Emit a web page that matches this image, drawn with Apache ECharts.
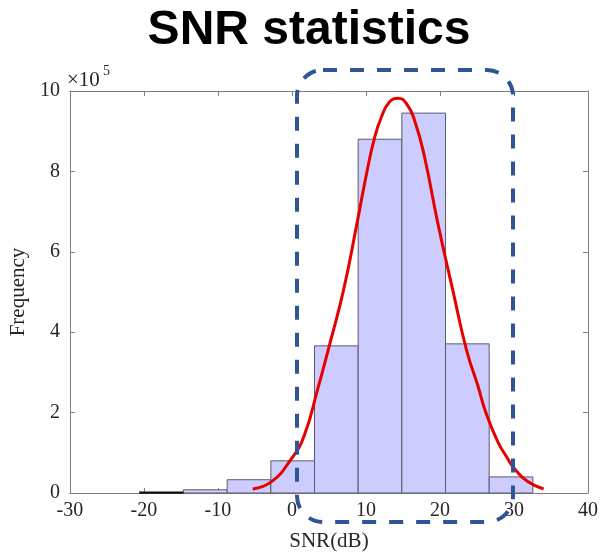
<!DOCTYPE html>
<html><head><meta charset="utf-8">
<script src="https://cdn.jsdelivr.net/npm/echarts@6/dist/echarts.min.js"></script>
<style>html,body{margin:0;padding:0;background:#fff}#c{width:603px;height:557px}</style>
</head><body><div id="c"></div>
<script>
// Histogram bin edges (dB) and counts (×10^5)
const binEdges = [-20.55, -14.65, -8.75, -2.85, 3.05, 8.95, 14.85, 20.75, 26.65, 32.55];
const binCounts = [0.02, 0.08, 0.33, 0.80, 3.66, 8.80, 9.45, 3.71, 0.40];
// Fitted curve points (×10^5)
const fitX = [-5.3, -2.7, -0.2, 1.6, 3.5, 5.0, 7.0, 8.8, 10.1, 11.1, 12.1, 13.2, 14.35, 15.5, 16.6, 17.9, 19.7, 21.7, 23.6, 25.1, 26.2, 27.8, 29.1, 30.0, 31.8, 34.0];
const fitY = [0.10, 0.29, 0.82, 1.40, 2.60, 3.63, 5.07, 6.72, 7.96, 8.79, 9.36, 9.73, 9.82, 9.68, 9.25, 8.37, 6.72, 5.07, 3.55, 2.68, 2.00, 1.28, 0.87, 0.62, 0.29, 0.10];
const xTicks = [-30, -20, -10, 0, 10, 20, 30, 40];
const yTicks = [0, 2, 4, 6, 8, 10];
const titleText = 'SNR statistics';
const xName = 'SNR(dB)';
const yName = 'Frequency';

const chart = echarts.init(document.getElementById('c'), null, {renderer: 'canvas'});
const serif = '"Liberation Serif", "Times New Roman", serif';
const axisCommon = {
  type: 'value',
  axisLine: {show: true, onZero: false, lineStyle: {color: '#7f7f7f', width: 1}},
  axisTick: {show: true, inside: true, length: 5, lineStyle: {color: '#7f7f7f'}},
  splitLine: {show: false}
};
const bins = binCounts.map((v, i) => [binEdges[i], binEdges[i + 1], v]);
chart.setOption({
  animation: false,
  backgroundColor: '#fff',
  grid: {left: 66, right: 15, top: 91, bottom: 62, containLabel: false},
  xAxis: [
    Object.assign({}, axisCommon, {
      min: xTicks[0], max: xTicks[xTicks.length - 1], interval: 10, position: 'bottom',
      axisLabel: {color: '#262626', fontFamily: serif, fontSize: 20, margin: 8},
      name: xName, nameLocation: 'middle', nameGap: 38,
      nameTextStyle: {color: '#262626', fontFamily: serif, fontSize: 21}
    }),
    Object.assign({}, axisCommon, {
      min: xTicks[0], max: xTicks[xTicks.length - 1], interval: 10, position: 'top',
      axisLabel: {show: false}
    })
  ],
  yAxis: [
    Object.assign({}, axisCommon, {
      min: yTicks[0], max: yTicks[yTicks.length - 1], interval: 2, position: 'left',
      axisLabel: {color: '#262626', fontFamily: serif, fontSize: 20, margin: 10},
      name: yName, nameLocation: 'middle', nameGap: 33, nameRotate: 90,
      nameTextStyle: {color: '#262626', fontFamily: serif, fontSize: 21}
    }),
    Object.assign({}, axisCommon, {
      min: yTicks[0], max: yTicks[yTicks.length - 1], interval: 2, position: 'right',
      axisLabel: {show: false}
    })
  ],
  series: [
    {
      type: 'custom',
      xAxisIndex: 0, yAxisIndex: 0,
      data: bins,
      encode: {x: [0, 1], y: 2},
      renderItem: function (params, api) {
        const p0 = api.coord([api.value(0), api.value(2)]);
        const p1 = api.coord([api.value(1), 0]);
        const tiny = (p1[1] - p0[1]) < 2;
        return {
          type: 'rect',
          shape: {x: p0[0], y: p0[1], width: p1[0] - p0[0], height: p1[1] - p0[1]},
          style: {fill: '#ccccff', stroke: tiny ? '#111' : '#5a5a6a', lineWidth: tiny ? 1.5 : 1}
        };
      },
      z: 2
    },
    {
      type: 'line',
      xAxisIndex: 0, yAxisIndex: 0,
      data: fitX.map((x, i) => [x, fitY[i]]),
      smooth: 0.5,
      symbol: 'none',
      lineStyle: {color: '#e60000', width: 3},
      z: 3
    }
  ],
  graphic: [
    {type: 'text', x: 309, y: 31, z: 10,
      style: {text: titleText, font: 'bold 48px "Liberation Sans", Arial, sans-serif', fill: '#000', textAlign: 'center', textVerticalAlign: 'middle'}},
    {type: 'text', x: 67, y: 80, z: 10,
      style: {text: '×10', font: '21px "Liberation Serif", serif', fill: '#262626', textAlign: 'left', textVerticalAlign: 'middle'}},
    {type: 'text', x: 103, y: 71, z: 10,
      style: {text: '5', font: '14px "Liberation Serif", serif', fill: '#262626', textAlign: 'left', textVerticalAlign: 'middle'}},
    {type: 'rect', z: 20,
      shape: {x: 297, y: 70, width: 216, height: 452, r: 26},
      style: {fill: 'none', stroke: '#2f5597', lineWidth: 4, lineDash: [14, 13]}}
  ]
});
</script>
</body></html>
